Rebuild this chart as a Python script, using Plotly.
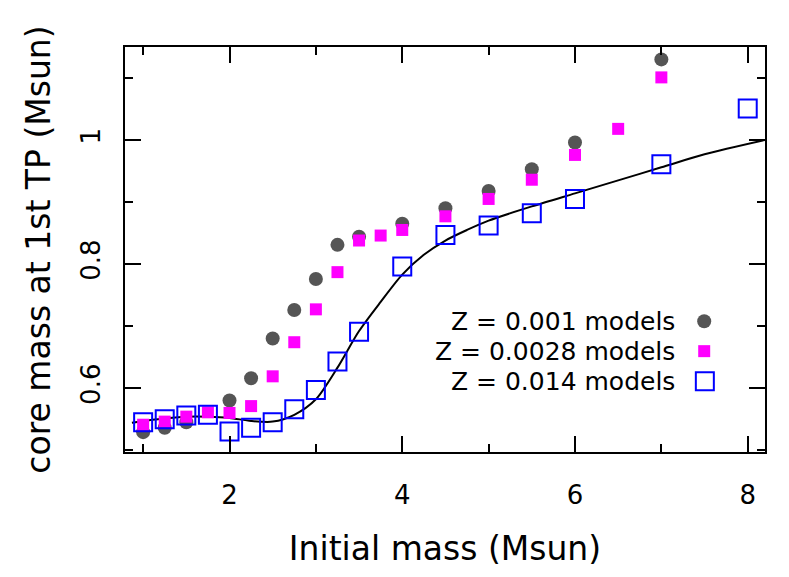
import plotly.graph_objects as go

# Z = 0.001 models (grey dots)
x_z001 = [1.0, 1.25, 1.5, 2.0, 2.25, 2.5, 2.75, 3.0, 3.25, 3.5, 4.0, 4.5, 5.0, 5.5, 6.0, 7.0]
y_z001 = [0.529, 0.536, 0.545, 0.580, 0.616, 0.680, 0.726, 0.776, 0.831, 0.844, 0.865,
          0.890, 0.918, 0.953, 0.996, 1.130]

# Z = 0.0028 models (magenta filled squares)
x_z0028 = [1.0, 1.25, 1.5, 1.75, 2.0, 2.25, 2.5, 2.75, 3.0, 3.25, 3.5, 3.75, 4.0, 4.5,
           5.0, 5.5, 6.0, 6.5, 7.0]
y_z0028 = [0.541, 0.546, 0.554, 0.561, 0.560, 0.571, 0.619, 0.674, 0.727, 0.787, 0.838,
           0.846, 0.855, 0.877, 0.905, 0.936, 0.976, 1.018, 1.101]

# Z = 0.014 models (blue open squares)
x_z014 = [1.0, 1.25, 1.5, 1.75, 2.0, 2.25, 2.5, 2.75, 3.0, 3.25, 3.5, 4.0, 4.5, 5.0,
          5.5, 6.0, 7.0, 8.0]
y_z014 = [0.545, 0.550, 0.556, 0.557, 0.530, 0.536, 0.545, 0.566, 0.597, 0.643, 0.691,
          0.796, 0.847, 0.862, 0.882, 0.905, 0.961, 1.051]

# fitted curve
x_fit = [0.87, 1.0, 1.25, 1.5, 1.75, 2.0, 2.25, 2.5, 2.75, 3.0, 3.25, 3.5, 3.75, 4.0,
         4.25, 4.5, 4.75, 5.0, 5.5, 6.0, 6.5, 7.0, 7.5, 8.2]
y_fit = [0.544, 0.547, 0.551, 0.554, 0.554, 0.552, 0.547, 0.546, 0.557, 0.582, 0.633,
         0.692, 0.739, 0.783, 0.815, 0.838, 0.855, 0.870, 0.893, 0.914, 0.935, 0.956, 0.977, 1.0]

legend_labels = ["Z = 0.001 models", "Z = 0.0028 models", "Z = 0.014 models"]

FONT = "DejaVu Sans"

fig = go.Figure()
fig.add_trace(go.Scatter(x=x_fit, y=y_fit, mode="lines",
                         line=dict(color="black", width=2, shape="spline", smoothing=0.8)))
fig.add_trace(go.Scatter(x=x_z001, y=y_z001, mode="markers",
                         marker=dict(symbol="circle", size=14, color="#555555", line=dict(width=0))))
fig.add_trace(go.Scatter(x=x_z0028, y=y_z0028, mode="markers",
                         marker=dict(symbol="square", size=12, color="#ff00ff", line=dict(width=0))))
fig.add_trace(go.Scatter(x=x_z014, y=y_z014, mode="markers",
                         marker=dict(symbol="square-open", size=18, color="#0000ff", line=dict(width=2))))

# legend: text on the left, symbol on the right
rows = [0.323, 0.249, 0.175]
for lab, yy in zip(legend_labels, rows):
    fig.add_annotation(x=0.8625, y=yy, xref="paper", yref="paper", text=lab, showarrow=False,
                       xanchor="right", yanchor="middle", font=dict(family=FONT, size=25, color="black"))

fig.add_shape(type="circle", xref="paper", yref="paper", xsizemode="pixel", ysizemode="pixel",
              xanchor=0.905, yanchor=rows[0], x0=-7, x1=7, y0=-7, y1=7,
              fillcolor="#555555", line=dict(width=0))
fig.add_shape(type="rect", xref="paper", yref="paper", xsizemode="pixel", ysizemode="pixel",
              xanchor=0.905, yanchor=rows[1], x0=-6, x1=6, y0=-6, y1=6,
              fillcolor="#ff00ff", line=dict(width=0))
fig.add_shape(type="rect", xref="paper", yref="paper", xsizemode="pixel", ysizemode="pixel",
              xanchor=0.906, yanchor=rows[2], x0=-9, x1=9, y0=-9, y1=9,
              fillcolor="rgba(0,0,0,0)", line=dict(width=2, color="#0000ff"))

axis_common = dict(showgrid=False, zeroline=False, showline=True, linecolor="black", linewidth=2,
                   mirror="allticks", ticks="inside", ticklen=16, tickwidth=2, tickcolor="black",
                   automargin=False, tickfont=dict(family=FONT, size=26, color="black"))

fig.update_xaxes(range=[0.79, 8.2], tick0=0, dtick=2,
                 minor=dict(ticks="inside", dtick=1, tick0=0, ticklen=8, tickwidth=2, tickcolor="black"),
                 title=dict(text="Initial mass (Msun)", font=dict(family=FONT, size=33, color="black"), standoff=28),
                 ticklabelstandoff=19, **axis_common)
fig.update_yaxes(range=[0.497, 1.15], tick0=0, dtick=0.2, tickangle=-90,
                 minor=dict(ticks="inside", dtick=0.1, tick0=0, ticklen=8, tickwidth=2, tickcolor="black"),
                 title=dict(text="core mass at 1st TP (Msun)", font=dict(family=FONT, size=33, color="black"), standoff=15),
                 ticklabelstandoff=13, **axis_common)

# page body adds an 8px offset, so margins are trimmed by 8 on the left/top
fig.update_layout(width=789, height=577, showlegend=False, plot_bgcolor="white", paper_bgcolor="white",
                  margin=dict(l=117, r=32, t=39, b=133))

fig.write_html("out.html")
